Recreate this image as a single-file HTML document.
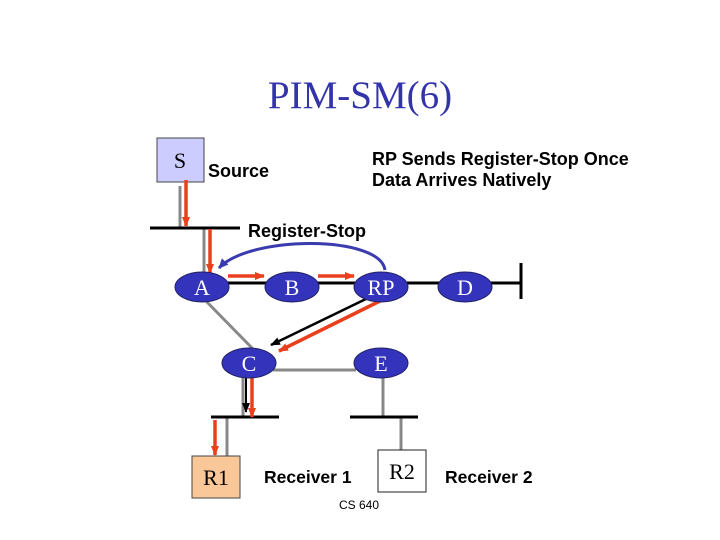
<!DOCTYPE html>
<html><head><meta charset="utf-8"><style>
html,body{margin:0;padding:0;background:#fff;}
svg{display:block;}
</style></head><body>
<svg width="720" height="540" viewBox="0 0 720 540" xmlns="http://www.w3.org/2000/svg">
<defs>
<marker id="ar" markerWidth="10" markerHeight="8" refX="9" refY="4" orient="auto" markerUnits="userSpaceOnUse"><path d="M0,0 L10,4 L0,8 z" fill="#e8401c"/></marker>
<marker id="ab" markerWidth="10" markerHeight="8" refX="9" refY="4" orient="auto" markerUnits="userSpaceOnUse"><path d="M0,0 L10,4 L0,8 z" fill="#000"/></marker>
<marker id="au" markerWidth="10" markerHeight="9" refX="9" refY="4.5" orient="auto" markerUnits="userSpaceOnUse"><path d="M0,0 L10,4.5 L0,9 z" fill="#3b3bb0"/></marker>
</defs>
<text x="360" y="108" font-family="Liberation Serif, serif" font-size="39" fill="#3333aa" text-anchor="middle">PIM-SM(6)</text>
<rect x="157" y="138" width="47" height="44" fill="#ccccff" stroke="#444" stroke-width="1"/>
<text x="180" y="168" font-family="Liberation Serif, serif" font-size="22" text-anchor="middle">S</text>
<text x="208" y="177" font-family="Liberation Sans, sans-serif" font-size="18" font-weight="bold">Source</text>
<text x="372" y="165" font-family="Liberation Sans, sans-serif" font-size="18" font-weight="bold">RP Sends Register-Stop Once</text>
<text x="372" y="186" font-family="Liberation Sans, sans-serif" font-size="18" font-weight="bold">Data Arrives Natively</text>
<text x="248" y="237" font-family="Liberation Sans, sans-serif" font-size="18" font-weight="bold">Register-Stop</text>
<g stroke="#888" stroke-width="3">
<line x1="180" y1="186" x2="180" y2="228"/>
<line x1="204" y1="228" x2="204" y2="272"/>
<line x1="203" y1="298" x2="253" y2="349"/>
<line x1="273" y1="370" x2="356" y2="370"/>
<line x1="243" y1="377" x2="243" y2="417"/>
<line x1="227" y1="417" x2="227" y2="456"/>
<line x1="383" y1="377" x2="383" y2="417"/>
<line x1="401" y1="417" x2="401" y2="450"/>
</g>
<g stroke="#000" stroke-width="3">
<line x1="150" y1="228" x2="240" y2="228"/>
<line x1="220" y1="283" x2="521" y2="283"/>
<line x1="521" y1="263" x2="521" y2="299"/>
<line x1="211" y1="417" x2="279" y2="417"/>
<line x1="350" y1="417" x2="418" y2="417"/>
</g>
<line x1="370" y1="297" x2="271" y2="345" stroke="#000" stroke-width="2.5" marker-end="url(#ab)"/>
<line x1="246" y1="378" x2="246" y2="412" stroke="#000" stroke-width="2" marker-end="url(#ab)"/>
<g stroke="#e8401c" stroke-width="3.5" fill="none">
<line x1="186" y1="180" x2="186" y2="226" marker-end="url(#ar)"/>
<line x1="210" y1="229" x2="210" y2="273" marker-end="url(#ar)"/>
<line x1="228" y1="276" x2="264" y2="276" marker-end="url(#ar)"/>
<line x1="318" y1="276" x2="354" y2="276" marker-end="url(#ar)"/>
<line x1="380" y1="301" x2="279" y2="351" marker-end="url(#ar)"/>
<line x1="252" y1="372" x2="252" y2="417" marker-end="url(#ar)"/>
<line x1="215" y1="420" x2="215" y2="455" marker-end="url(#ar)"/>
</g>
<path d="M385,270 C380,235 250,235 219,268" stroke="#3b3bb0" stroke-width="3" fill="none" marker-end="url(#au)"/>
<g fill="#3333bb" stroke="#222266" stroke-width="1">
<ellipse cx="202" cy="287" rx="27" ry="15"/>
<ellipse cx="292" cy="287" rx="27" ry="15"/>
<ellipse cx="381" cy="287" rx="27" ry="15"/>
<ellipse cx="465" cy="287" rx="27" ry="15"/>
<ellipse cx="249" cy="363" rx="27" ry="15"/>
<ellipse cx="381" cy="363" rx="27" ry="15"/>
</g>
<g font-family="Liberation Serif, serif" font-size="22" fill="#fff" text-anchor="middle">
<text x="202" y="295">A</text>
<text x="292" y="295">B</text>
<text x="381" y="295">RP</text>
<text x="465" y="295">D</text>
<text x="249" y="371">C</text>
<text x="381" y="371">E</text>
</g>
<rect x="192" y="456" width="48" height="42" fill="#fac898" stroke="#444"/>
<text x="216" y="485" font-family="Liberation Serif, serif" font-size="22" text-anchor="middle">R1</text>
<rect x="378" y="450" width="48" height="42" fill="#fff" stroke="#222"/>
<text x="402" y="479" font-family="Liberation Serif, serif" font-size="22" text-anchor="middle">R2</text>
<text x="264" y="483" font-family="Liberation Sans, sans-serif" font-size="17.5" font-weight="bold">Receiver 1</text>
<text x="445" y="483" font-family="Liberation Sans, sans-serif" font-size="17.5" font-weight="bold">Receiver 2</text>
<text x="339" y="509" font-family="Liberation Sans, sans-serif" font-size="12">CS 640</text>
</svg>
</body></html>
